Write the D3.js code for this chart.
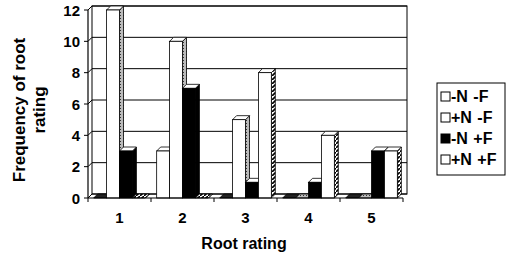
<!DOCTYPE html>
<html>
<head>
<meta charset="utf-8">
<script src="https://cdn.jsdelivr.net/npm/d3@7"></script>
<style>
body{margin:0;background:#fff}
text{font-family:Arial,"Liberation Sans",sans-serif;font-weight:bold;fill:#000}
</style>
</head>
<body>
<svg id="chart" width="507" height="256"></svg>
<script>
var categories = ['1','2','3','4','5']
var seriesNames = ['-N -F','+N -F','-N +F','+N +F']
var nmfValues = [0,3,0,0,0]
var pmfValues = [12,10,5,0,0]
var npfValues = [3,7,1,1,3]
var ppfValues = [0,0,8,4,3]
var yTicks = [0,2,4,6,8,10,12]

var allSeries = [nmfValues,pmfValues,npfValues,ppfValues]
var fronts = ['#fff','#fff','#000','#fff']
var sides  = ['#222','url(#dots)','#000','url(#hatch)']
var swatch = ['#fff','#fff','#000','#fff']

var svg = d3.select('#chart')
var defs = svg.append('defs')
var dots = defs.append('pattern').attr('id','dots').attr('width',3).attr('height',3).attr('patternUnits','userSpaceOnUse')
dots.append('rect').attr('width',3).attr('height',3).attr('fill','#bbb')
dots.append('rect').attr('width',1).attr('height',1).attr('fill','#333')
var hatch = defs.append('pattern').attr('id','hatch').attr('width',4).attr('height',4).attr('patternUnits','userSpaceOnUse')
hatch.append('rect').attr('width',4).attr('height',4).attr('fill','#fff')
hatch.append('path').attr('d','M0,4L4,0').attr('stroke','#000').attr('stroke-width',1.6)

var dx = 4, dy = -4
var x0 = d3.scaleBand().domain(categories).range([88,403]).paddingInner(0.18).paddingOuter(0.09)
var x1 = d3.scaleBand().domain(d3.range(4)).range([0,x0.bandwidth()])
var y = d3.scaleLinear().domain([0,12]).range([198,10])

// walls
var walls = svg.append('g').attr('id','walls')
walls.append('rect').attr('x',88+dx).attr('y',y(12)+dy).attr('width',403-88).attr('height',y(0)-y(12))
	.attr('fill','#fff').attr('stroke','#000').attr('stroke-width',1)
yTicks.forEach(function(v){
	walls.append('line').attr('x1',88+dx).attr('x2',403+dx).attr('y1',y(v)+dy).attr('y2',y(v)+dy)
		.attr('stroke','#000').attr('stroke-width',1)
	walls.append('line').attr('x1',88).attr('x2',88+dx).attr('y1',y(v)).attr('y2',y(v)+dy)
		.attr('stroke','#000').attr('stroke-width',1)
})

// bars
var bars = svg.append('g').attr('id','bars')
categories.forEach(function(c,ci){
	allSeries.forEach(function(s,si){
		var v = s[ci]
		var bx = x0(c) + x1(si), bw = x1.bandwidth(), top = y(v), bot = y(0)
		var g = bars.append('g')
		g.append('path').attr('fill',sides[si]).attr('stroke','#000').attr('stroke-width',0.8)
			.attr('d','M'+(bx+bw)+','+bot+'L'+(bx+bw+dx)+','+(bot+dy)+'L'+(bx+bw+dx)+','+(top+dy)+'L'+(bx+bw)+','+top+'Z')
		g.append('path').attr('fill',v==0 ? sides[si] : '#fff').attr('stroke','#000').attr('stroke-width',0.8)
			.attr('d','M'+bx+','+top+'L'+(bx+dx)+','+(top+dy)+'L'+(bx+bw+dx)+','+(top+dy)+'L'+(bx+bw)+','+top+'Z')
		if(v>0) g.append('rect').attr('x',bx).attr('y',top).attr('width',bw).attr('height',bot-top)
			.attr('fill',fronts[si]).attr('stroke','#000').attr('stroke-width',0.8)
	})
})

// axes
var axes = svg.append('g').attr('id','axes')
axes.append('line').attr('x1',88).attr('x2',88).attr('y1',y(0)).attr('y2',y(12)).attr('stroke','#000').attr('stroke-width',1.2)
axes.append('line').attr('x1',88).attr('x2',403).attr('y1',y(0)).attr('y2',y(0)).attr('stroke','#000').attr('stroke-width',1.2)
yTicks.forEach(function(v){
	axes.append('line').attr('x1',84).attr('x2',88).attr('y1',y(v)).attr('y2',y(v)).attr('stroke','#000')
	axes.append('text').text(v).attr('x',80).attr('y',y(v)+5.5).attr('text-anchor','end').style('font-size','15px')
})
categories.forEach(function(c,ci){
	var bx = x0.step()*ci + 88
	axes.append('line').attr('x1',bx).attr('x2',bx).attr('y1',y(0)).attr('y2',y(0)+4).attr('stroke','#000')
	axes.append('text').text(c).attr('x',x0(c)+x0.bandwidth()/2).attr('y',223).attr('text-anchor','middle').style('font-size','15px')
})
axes.append('line').attr('x1',403).attr('x2',403).attr('y1',y(0)).attr('y2',y(0)+4).attr('stroke','#000')

axes.append('text').text('Root rating').attr('x',244).attr('y',249).attr('text-anchor','middle').style('font-size','16px')
var yt = axes.append('text').attr('transform','translate(25,110) rotate(-90)').attr('text-anchor','middle').style('font-size','17px')
yt.append('tspan').attr('x',0).attr('y',0).text('Frequency of root')
yt.append('tspan').attr('x',0).attr('y',20).text('rating')

// legend
var legend = svg.append('g').attr('id','legend').attr('transform','translate(437,83)')
legend.append('rect').attr('width',68).attr('height',92).attr('fill','#fff').attr('stroke','#000')
seriesNames.forEach(function(n,i){
	var ly = 19 + i*21
	legend.append('rect').attr('x',4).attr('y',ly-10).attr('width',9).attr('height',9).attr('fill',swatch[i]).attr('stroke','#000')
	legend.append('text').text(n).attr('x',14).attr('y',ly).style('font-size','16px').style('word-spacing','1px')
})
</script>
</body>
</html>
